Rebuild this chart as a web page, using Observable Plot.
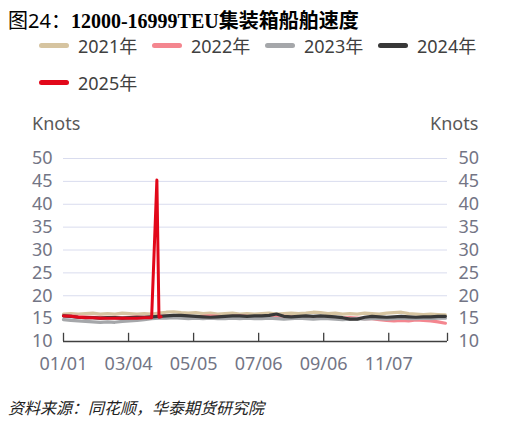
<!DOCTYPE html>
<html><head><meta charset="utf-8">
<script src="https://cdn.jsdelivr.net/npm/d3@7"></script>
<script src="https://cdn.jsdelivr.net/npm/@observablehq/plot@0.6"></script>
<style>
body{margin:0;background:#fff;width:519px;height:426px;position:relative;overflow:hidden;font-family:"Noto Sans","Noto Sans CJK SC",sans-serif;}
.abs{position:absolute;white-space:nowrap;}
#title{left:8px;top:8px;font-size:20px;line-height:26px;color:#000;}
#title .a{font-family:"Noto Sans","Noto Sans CJK SC",sans-serif;font-weight:400;}
#title .b{font-family:"Liberation Serif","Noto Sans CJK SC",serif;font-weight:700;}
.leg{position:absolute;display:flex;align-items:center;font-size:18px;color:#404040;height:24px;}
.sw{width:30px;height:5px;border-radius:2.5px;margin-right:9px;}
.knots{font-size:18px;color:#595959;}
#cap{left:8px;top:395px;font-size:16px;font-style:italic;color:#222;font-family:"Noto Sans CJK SC",sans-serif;}
#chart{position:absolute;left:0;top:100px;}
</style></head>
<body>
<div id="title" class="abs"><span class="a">图24：</span><span class="b">12000-16999TEU集装箱船舶速度</span></div>
<div id="legend"></div>
<div class="abs knots" style="left:32px;top:111px;">Knots</div>
<div class="abs knots" style="left:430px;top:111px;">Knots</div>
<div id="chart"></div>
<div id="cap" class="abs">资料来源：同花顺，华泰期货研究院</div>
<script>
const years = ["2021年","2022年","2023年","2024年","2025年"];
const colors = ["#d6c4a0","#f4868f","#a5a7aa","#383838","#e2081a"];
const tickDays = [0,62,124,186,248,310];
const tickLabels = ["01/01","03/04","05/05","07/06","09/06","11/07"];
const yTicks = [10,15,20,25,30,35,40,45,50];
// weekly observation days (day of year)
const days = [0,7,14,21,28,35,42,49,56,63,70,77,84,91,98,105,112,119,126,133,140,147,154,161,168,175,182,189,196,203,210,217,224,231,238,245,252,259,266,273,280,287,294,301,308,315,322,329,336,343,350,357,364];
const v2021 = [16.0,16.1,16.0,16.1,16.2,16.0,16.1,16.0,16.2,16.1,16.0,16.1,16.0,16.2,16.4,16.5,16.3,16.2,16.3,16.1,16.2,16.0,16.1,16.2,16.0,16.1,16.0,16.1,16.2,16.0,16.1,16.2,16.1,16.2,16.4,16.3,16.1,16.2,16.0,16.1,16.0,16.2,16.1,16.0,16.2,16.3,16.4,16.1,16.0,15.9,16.0,15.9,15.8];
const v2022 = [15.7,15.6,15.5,15.4,15.3,15.3,15.2,15.3,15.2,15.3,15.4,15.3,15.4,15.5,15.6,15.5,15.6,15.5,15.4,15.5,15.6,15.5,15.4,15.5,15.6,15.5,15.4,15.5,15.3,15.4,15.5,15.4,15.3,15.4,15.3,15.2,15.3,15.2,15.1,15.2,15.1,15.0,15.0,14.8,14.6,14.5,14.6,14.5,14.7,14.6,14.5,14.3,14.0];
const v2023 = [14.8,14.6,14.5,14.4,14.3,14.2,14.3,14.2,14.4,14.5,14.6,14.8,15.0,15.1,15.1,15.2,15.1,15.0,15.1,15.0,15.1,15.0,15.0,15.1,15.0,15.1,15.0,15.0,15.1,15.0,14.9,15.0,15.1,15.0,14.9,15.0,15.0,14.9,14.8,14.9,15.0,14.9,15.0,15.0,14.9,15.0,15.1,15.0,15.0,15.1,15.0,15.1,15.1];
const v2024 = [15.6,15.5,15.3,15.2,15.2,15.1,15.2,15.2,15.1,15.2,15.3,15.3,15.4,15.5,15.6,15.7,15.7,15.6,15.5,15.4,15.3,15.4,15.5,15.6,15.6,15.5,15.6,15.6,15.7,16.0,15.5,15.4,15.5,15.6,15.5,15.6,15.5,15.4,15.2,14.9,14.9,15.3,15.5,15.4,15.3,15.4,15.5,15.4,15.3,15.4,15.4,15.5,15.5];
const days2025 = [0,7,14,21,28,35,42,49,56,63,70,77,84,89,91,93];
const v2025 = [15.6,15.5,15.3,15.2,15.2,15.1,15.1,15.1,15.1,15.1,15.1,15.2,15.2,45.3,15.3,15.4];

const seriesDays = [days,days,days,days,days2025];
const seriesVals = [v2021,v2022,v2023,v2024,v2025];

// legend
const legend = document.getElementById("legend");
years.forEach((y,i)=>{
  const d = document.createElement("div");
  d.className = "leg";
  d.style.left = (39 + (i%4)*113) + "px";
  d.style.top = (i<4 ? 33 : 70) + "px";
  d.innerHTML = `<span class="sw" style="background:${colors[i]}"></span><span>${y}</span>`;
  legend.appendChild(d);
});

const lineMarks = seriesVals.map((vals,i)=>{
  const data = vals.map((v,j)=>({day:seriesDays[i][j], v}));
  return Plot.line(data,{x:"day",y:"v",stroke:colors[i],strokeWidth:i===4?3:3.2,curve:"linear"});
});

const axisColor = "#737585";
const chart = Plot.plot({
  width:519, height:280,
  marginTop:58, marginBottom:39, marginLeft:63, marginRight:72,
  style:{fontFamily:'"Noto Sans","Noto Sans CJK SC",sans-serif', fontSize:"18px", background:"transparent"},
  x:{domain:[0,366], axis:null},
  y:{domain:[10,50], axis:null},
  marks:[
    Plot.ruleY(yTicks.filter(t=>t>10),{stroke:"#d9dcee",strokeWidth:1}),
    Plot.axisY(yTicks,{anchor:"left",tickSize:0,tickPadding:11,label:null,fill:axisColor,fontSize:18}),
    Plot.axisY(yTicks,{anchor:"right",tickSize:0,tickPadding:11,label:null,fill:axisColor,fontSize:18}),
    Plot.axisX(tickDays,{anchor:"bottom",tickSize:0,tickPadding:16,label:null,fill:axisColor,fontSize:18,tickFormat:d=>tickLabels[tickDays.indexOf(d)]}),
    ...lineMarks,
    Plot.ruleY([10],{stroke:"#404040",strokeWidth:1.3}),
    Plot.ruleX([...tickDays,366],{y1:10,y2:11.8,stroke:"#404040",strokeWidth:1.3})
  ]
});
document.getElementById("chart").appendChild(chart);
</script>
</body></html>
